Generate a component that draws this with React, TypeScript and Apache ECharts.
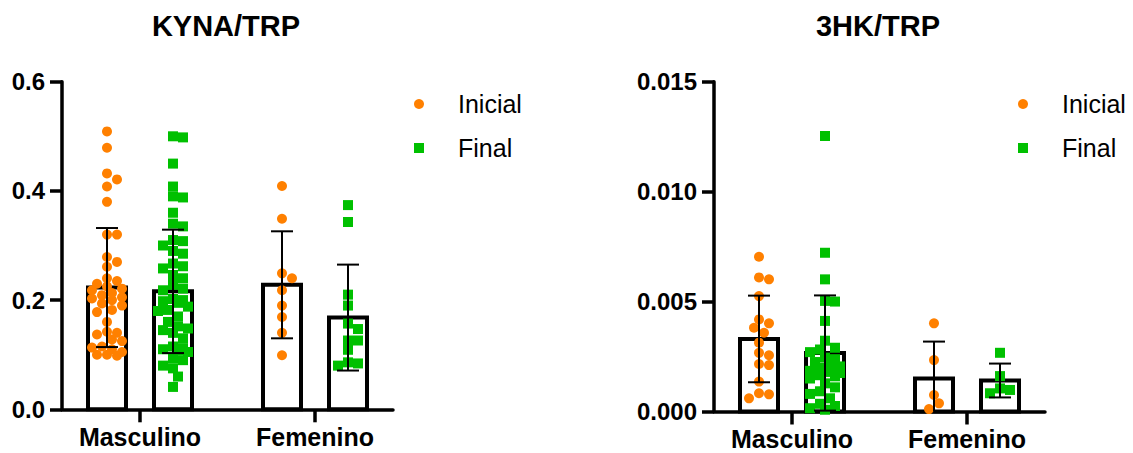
import React, { useEffect, useRef } from "react";
import * as echarts from "echarts";

// ---------- data ----------
const categories = ["Masculino", "Femenino"];
const seriesNames = ["Inicial", "Final"];
const titles = ["KYNA/TRP", "3HK/TRP"];

const kynaTicks = [0, 0.2, 0.4, 0.6];
const hkTicks = [0, 0.005, 0.01, 0.015];

// KYNA/TRP individual values
const kynaMascInicial = [0.509, 0.479, 0.432, 0.421, 0.408, 0.38, 0.32, 0.32, 0.279, 0.27, 0.261, 0.24, 0.235, 0.23, 0.225, 0.221, 0.218, 0.213, 0.209, 0.205, 0.203, 0.2, 0.194, 0.19, 0.182, 0.178, 0.16, 0.142, 0.14, 0.137, 0.128, 0.125, 0.115, 0.113, 0.11, 0.105, 0.1, 0.1, 0.098];
const kynaMascFinal = [0.5, 0.498, 0.45, 0.408, 0.39, 0.388, 0.36, 0.34, 0.335, 0.31, 0.308, 0.3, 0.29, 0.285, 0.267, 0.262, 0.258, 0.246, 0.24, 0.228, 0.221, 0.218, 0.202, 0.2, 0.198, 0.195, 0.188, 0.182, 0.18, 0.17, 0.16, 0.152, 0.148, 0.145, 0.14, 0.13, 0.115, 0.112, 0.11, 0.108, 0.105, 0.093, 0.09, 0.08, 0.075, 0.06, 0.041];
const kynaFemInicial = [0.409, 0.349, 0.249, 0.24, 0.218, 0.19, 0.169, 0.14, 0.099];
const kynaFemFinal = [0.374, 0.343, 0.21, 0.19, 0.157, 0.147, 0.126, 0.126, 0.109, 0.086, 0.084, 0.08];
// KYNA/TRP mean and SD per category
const kynaInicialMean = [0.223, 0.228];
const kynaInicialSD = [0.109, 0.098];
const kynaFinalMean = [0.216, 0.168];
const kynaFinalSD = [0.113, 0.097];

// 3HK/TRP individual values
const hkMascInicial = [0.00704, 0.0061, 0.00601, 0.00525, 0.00419, 0.00401, 0.00381, 0.00358, 0.00313, 0.00267, 0.00256, 0.00216, 0.00211, 0.00136, 0.00083, 0.00078, 0.0006];
const hkMascFinal = [0.01253, 0.00722, 0.00601, 0.00503, 0.005, 0.00412, 0.00322, 0.0029, 0.00282, 0.0027, 0.00245, 0.00238, 0.00225, 0.00215, 0.00205, 0.00198, 0.00185, 0.0018, 0.00175, 0.00165, 0.0016, 0.0015, 0.00128, 0.0011, 0.00092, 0.0008, 0.0006, 0.00035, 0.00025, 0.00015, 0.00008];
const hkFemInicial = [0.00401, 0.00234, 0.00075, 0.00037, 0.00011];
const hkFemFinal = [0.00267, 0.00161, 0.00105, 0.00098, 0.00083];
// 3HK/TRP mean and SD per category
const hkInicialMean = [0.0033, 0.0015];
const hkInicialSD = [0.00197, 0.00168];
const hkFinalMean = [0.00266, 0.00141];
const hkFinalSD = [0.00262, 0.00077];

// ---------- styling / layout ----------
const ORANGE = "#FF8000";
const GREEN = "#00C000";
const FONT = "'Liberation Sans', Arial, Helvetica, sans-serif";
const X_MIN = 1 - 78 / 175;
const X_MAX = 2 + 78 / 175;
const GROUP_OFFSET = 33 / 175;

const panels = [
  {
    title: titles[0], titleX: 226, legendX: 419,
    grid: { left: 62, top: 81.7, width: 331, height: 327.6 },
    ticks: kynaTicks, decimals: 1,
    ini: [kynaMascInicial, kynaFemInicial], fin: [kynaMascFinal, kynaFemFinal],
    iniMean: kynaInicialMean, iniSD: kynaInicialSD, finMean: kynaFinalMean, finSD: kynaFinalSD,
  },
  {
    title: titles[1], titleX: 878, legendX: 1023,
    grid: { left: 714, top: 81.7, width: 331, height: 329.8 },
    ticks: hkTicks, decimals: 3,
    ini: [hkMascInicial, hkFemInicial], fin: [hkMascFinal, hkFemFinal],
    iniMean: hkInicialMean, iniSD: hkInicialSD, finMean: hkFinalMean, finSD: hkFinalSD,
  },
];

function barRender(params: any, api: any) {
  const x = api.value(0);
  const m = api.value(1);
  const base = api.coord([x, 0]);
  const top = api.coord([x, m]);
  const w = 38;
  return {
    type: "rect",
    shape: { x: base[0] - w / 2, y: top[1], width: w, height: base[1] - top[1] },
    style: { fill: "#ffffff", stroke: "#000000", lineWidth: 4 },
  };
}

function errRender(params: any, api: any) {
  const x = api.value(0);
  const m = api.value(1);
  const sd = api.value(2);
  const hi = api.coord([x, m + sd]);
  const lowClamped = m - sd <= 0;
  const lo = api.coord([x, lowClamped ? 0 : m - sd]);
  const cap = 11;
  const st = { stroke: "#000000", lineWidth: 2 };
  const children: any[] = [
    { type: "line", shape: { x1: hi[0], y1: hi[1], x2: lo[0], y2: lo[1] }, style: st },
    { type: "line", shape: { x1: hi[0] - cap, y1: hi[1], x2: hi[0] + cap, y2: hi[1] }, style: st },
  ];
  if (!lowClamped) {
    children.push({ type: "line", shape: { x1: lo[0] - cap, y1: lo[1], x2: lo[0] + cap, y2: lo[1] }, style: st });
  }
  return { type: "group", children };
}

function swarm(chart: any, gridIndex: number, values: number[], baseX: number): number[][] {
  const p1 = chart.convertToPixel({ gridIndex }, [1, 0]);
  const p2 = chart.convertToPixel({ gridIndex }, [2, 0]);
  const pxPerUnit = p2[0] - p1[0];
  const placed: { dx: number; y: number }[] = [];
  const out: number[][] = [];
  const step = 5;
  const minDist = 9;
  const cands = [0, step, -step, 2 * step, -2 * step, 3 * step, -3 * step];
  const order = values.map((_, i) => i).sort((a, b) => values[b] - values[a]);
  for (const i of order) {
    const y = chart.convertToPixel({ gridIndex }, [baseX, values[i]])[1];
    let best = 0;
    let bestScore = -Infinity;
    for (const c of cands) {
      let md = Infinity;
      for (const p of placed) {
        const d = Math.hypot(p.dx - c, p.y - y);
        if (d < md) md = d;
      }
      if (md >= minDist) { best = c; bestScore = Infinity; break; }
      if (md > bestScore) { bestScore = md; best = c; }
    }
    placed.push({ dx: best, y });
    out.push([baseX + best / pxPerUnit, values[i]]);
  }
  return out;
}

export default function App() {
  const ref = useRef<HTMLDivElement>(null);
  useEffect(() => {
    if (!ref.current) return;
    const chart = echarts.init(ref.current, undefined, { renderer: "svg" });

    const grids: any[] = [];
    const xAxes: any[] = [];
    const yAxes: any[] = [];
    const series: any[] = [];
    const graphics: any[] = [];

    panels.forEach((p, gi) => {
      grids.push({ ...p.grid, containLabel: false });
      xAxes.push({
        type: "value", gridIndex: gi, min: X_MIN, max: X_MAX,
        splitLine: { show: false },
        axisLine: { show: true, onZero: false, lineStyle: { color: "#000", width: 3.5 } },
        axisTick: { show: true, customValues: [1, 2], length: 13, lineStyle: { color: "#000", width: 3.5 } },
        axisLabel: {
          show: true, customValues: [1, 2], margin: 15,
          formatter: (v: number) => categories[Math.round(v) - 1] ?? "",
          color: "#000", fontWeight: "bold", fontSize: 25, fontFamily: FONT,
        },
      });
      const tks = p.ticks;
      yAxes.push({
        type: "value", gridIndex: gi, min: tks[0], max: tks[tks.length - 1], interval: tks[1] - tks[0],
        splitLine: { show: false },
        axisLine: { show: true, onZero: false, lineStyle: { color: "#000", width: 3.5 } },
        axisTick: { show: true, length: 12, lineStyle: { color: "#000", width: 3.5 } },
        axisLabel: {
          margin: 17, color: "#000", fontWeight: "bold", fontSize: 24, fontFamily: FONT,
          formatter: (v: number) => v.toFixed(p.decimals),
        },
      });

      const barData: number[][] = [];
      categories.forEach((_, ci) => {
        const c = ci + 1;
        barData.push([c - GROUP_OFFSET, p.iniMean[ci], p.iniSD[ci]]);
        barData.push([c + GROUP_OFFSET, p.finMean[ci], p.finSD[ci]]);
      });

      series.push({
        id: `bars${gi}`, type: "custom", xAxisIndex: gi, yAxisIndex: gi, z: 2,
        renderItem: barRender, data: barData, clip: false,
      });
      const iniData: number[][] = [];
      const finData: number[][] = [];
      categories.forEach((_, ci) => {
        p.ini[ci].forEach((v) => iniData.push([ci + 1 - GROUP_OFFSET, v]));
        p.fin[ci].forEach((v) => finData.push([ci + 1 + GROUP_OFFSET, v]));
      });
      series.push({
        id: `ini${gi}`, name: seriesNames[0], type: "scatter", xAxisIndex: gi, yAxisIndex: gi, z: 3,
        symbol: "circle", symbolSize: 10, itemStyle: { color: ORANGE, opacity: 1 }, data: iniData,
      });
      series.push({
        id: `fin${gi}`, name: seriesNames[1], type: "scatter", xAxisIndex: gi, yAxisIndex: gi, z: 3,
        symbol: "rect", symbolSize: 10, itemStyle: { color: GREEN, opacity: 1 }, data: finData,
      });
      series.push({
        id: `err${gi}`, type: "custom", xAxisIndex: gi, yAxisIndex: gi, z: 4,
        renderItem: errRender, data: barData, clip: false,
      });

      graphics.push({
        type: "text", x: p.titleX, y: 26,
        style: { text: p.title, fill: "#000", font: `bold 29px ${FONT}`, textAlign: "center", textVerticalAlign: "middle" },
      });
      graphics.push({ type: "circle", shape: { cx: p.legendX, cy: 104, r: 5 }, style: { fill: ORANGE } });
      graphics.push({
        type: "text", x: p.legendX + 39, y: 104,
        style: { text: seriesNames[0], fill: "#000", font: `25px ${FONT}`, textAlign: "left", textVerticalAlign: "middle" },
      });
      graphics.push({ type: "rect", shape: { x: p.legendX - 5, y: 143, width: 10, height: 10 }, style: { fill: GREEN } });
      graphics.push({
        type: "text", x: p.legendX + 39, y: 148,
        style: { text: seriesNames[1], fill: "#000", font: `25px ${FONT}`, textAlign: "left", textVerticalAlign: "middle" },
      });
    });

    chart.setOption({
      animation: false,
      backgroundColor: "#ffffff",
      grid: grids,
      xAxis: xAxes,
      yAxis: yAxes,
      series,
      graphic: { elements: graphics },
    });

    // beeswarm placement of individual points using the chart's own scales
    const updates: any[] = [];
    panels.forEach((p, gi) => {
      const iniData: number[][] = [];
      const finData: number[][] = [];
      categories.forEach((_, ci) => {
        swarm(chart, gi, p.ini[ci], ci + 1 - GROUP_OFFSET).forEach((d) => iniData.push(d));
        swarm(chart, gi, p.fin[ci], ci + 1 + GROUP_OFFSET).forEach((d) => finData.push(d));
      });
      updates.push({ id: `ini${gi}`, data: iniData });
      updates.push({ id: `fin${gi}`, data: finData });
    });
    chart.setOption({ series: updates });

    return () => chart.dispose();
  }, []);

  return (
    <div
      ref={ref}
      style={{ position: "fixed", left: 0, top: 0, width: 1133, height: 453, background: "#fff" }}
    />
  );
}
